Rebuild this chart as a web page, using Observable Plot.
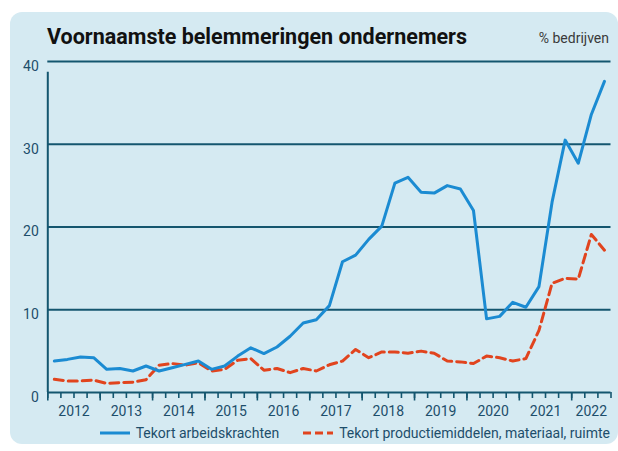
<!DOCTYPE html>
<html>
<head>
<meta charset="utf-8">
<script src="https://cdn.jsdelivr.net/npm/d3@7"></script>
<script src="https://cdn.jsdelivr.net/npm/@observablehq/plot@0.6"></script>
<style>
  html, body { margin: 0; padding: 0; background: #ffffff; }
  body { width: 618px; height: 451px; position: relative; overflow: hidden; font-family: Roboto, "Noto Sans", sans-serif; }
  #panel { position: absolute; left: 10px; top: 12px; width: 608px; height: 432px; background: #d5eaf2; border-radius: 12px; }
  #chart { position: absolute; left: 0; top: 0; width: 618px; }
  #head { position: relative; height: 50px; }
  #title { position: absolute; left: 47px; top: 26px; font-size: 21.5px; line-height: 21.5px; font-weight: 700; color: #111; white-space: nowrap; }
  #unit { position: absolute; right: 9px; top: 31px; font-size: 14px; line-height: 14px; color: #3a3a3a; white-space: nowrap; }
  #plot svg { display: block; background: transparent; }
  #legend { display: flex; justify-content: flex-end; align-items: center; height: 20px; padding-right: 8px; font-size: 14px; color: #1d4e6b; gap: 6px; }
  #legend .sw { display: block; }
  #legend .gap { width: 12px; }
</style>
</head>
<body>
<div id="panel"></div>
<div id="chart">
  <div id="head">
    <div id="title">Voornaamste belemmeringen ondernemers</div>
    <div id="unit">% bedrijven</div>
  </div>
  <div id="plot"></div>
  <div id="legend"></div>
</div>
<script>
// ---- data (quarterly, 2012 K1 – 2022 K3) ----
const yearLabels = ["2012","2013","2014","2015","2016","2017","2018","2019","2020","2021","2022"];
const seriesNames = ["Tekort arbeidskrachten", "Tekort productiemiddelen, materiaal, ruimte"];
const arbeidskrachten = [3.8, 4.0, 4.3, 4.2, 2.8, 2.9, 2.6, 3.2, 2.6, 3.0, 3.4, 3.8, 2.8, 3.2, 4.4, 5.4,
  4.7, 5.5, 6.8, 8.4, 8.8, 10.5, 15.8, 16.6, 18.5, 20.1, 25.3, 26.0, 24.2, 24.1, 25.0, 24.6,
  22.0, 8.9, 9.2, 10.9, 10.3, 12.8, 23.0, 30.5, 27.7, 33.6, 37.6];
const productiemiddelen = [1.6, 1.4, 1.4, 1.5, 1.1, 1.2, 1.25, 1.55, 3.3, 3.5, 3.3, 3.6, 2.6, 2.8, 3.9, 4.1,
  2.7, 2.9, 2.4, 2.9, 2.6, 3.35, 3.8, 5.2, 4.2, 4.9, 4.9, 4.75, 5.0, 4.75, 3.8, 3.7,
  3.5, 4.4, 4.2, 3.8, 4.1, 7.5, 13.2, 13.8, 13.7, 19.1, 17.2];
const yTicks = [0, 10, 20, 30, 40];
const gridValues = [10, 20, 30, 40];

const colors = ["#1b8bd2", "#e1441e"];
const axisColor = "#14566f";
const labelColor = "#1d4e6b";

const nQ = arbeidskrachten.length;
const lineData1 = arbeidskrachten.map((v, i) => ({x: i + 0.5, v}));
const lineData2 = productiemiddelen.map((v, i) => ({x: i + 0.5, v}));
const quarterTicks = d3.range(0, nQ + 1);
const yearTicks = quarterTicks.filter(q => q % 4 === 0);
const yearData = yearLabels.map((label, k) => ({x: (4 * k + Math.min(4 * k + 4, nQ)) / 2, label}));

const plot = Plot.plot({
  width: 618,
  height: 373,
  marginLeft: 47.3,
  marginRight: 7.5,
  marginTop: 11,
  marginBottom: 31,
  style: {background: "transparent", fontFamily: "Roboto, sans-serif"},
  x: {domain: [0, nQ], axis: null},
  y: {domain: [0, 40], axis: null},
  marks: [
    Plot.ruleY(gridValues, {stroke: axisColor, strokeWidth: 2}),
    Plot.ruleX([0], {y1: 0, y2: 38.7, stroke: axisColor, strokeWidth: 2}),
    Plot.ruleY([0], {stroke: axisColor, strokeWidth: 2}),
    Plot.axisX(quarterTicks, {tickSize: 6, tickFormat: () => "", label: null, stroke: axisColor, strokeWidth: 1.6}),
    Plot.axisX(yearTicks, {tickSize: 8.5, tickFormat: () => "", label: null, stroke: axisColor, strokeWidth: 1.6}),
    Plot.text(yearData, {x: "x", y: 0, text: "label", dy: 19, fontSize: 14, fill: labelColor}),
    Plot.axisY(yTicks, {tickSize: 0, tickPadding: 9, dy: 5, fontSize: 14, color: labelColor, label: null}),
    Plot.line(lineData2, {x: "x", y: "v", stroke: colors[1], strokeWidth: 3, strokeDasharray: "9,5"}),
    Plot.line(lineData1, {x: "x", y: "v", stroke: colors[0], strokeWidth: 3})
  ]
});
document.getElementById("plot").appendChild(plot);

// legend
const legend = document.getElementById("legend");
seriesNames.forEach((name, i) => {
  if (i > 0) { const g = document.createElement("div"); g.className = "gap"; legend.appendChild(g); }
  const sw = document.createElementNS("http://www.w3.org/2000/svg", "svg");
  sw.setAttribute("width", 30); sw.setAttribute("height", 6); sw.setAttribute("class", "sw");
  const ln = document.createElementNS("http://www.w3.org/2000/svg", "line");
  ln.setAttribute("x1", 0); ln.setAttribute("x2", 30); ln.setAttribute("y1", 3); ln.setAttribute("y2", 3);
  ln.setAttribute("stroke", colors[i]); ln.setAttribute("stroke-width", 3);
  if (i === 1) ln.setAttribute("stroke-dasharray", "8,4");
  sw.appendChild(ln);
  legend.appendChild(sw);
  const t = document.createElement("span"); t.textContent = name; legend.appendChild(t);
});
</script>
</body>
</html>
